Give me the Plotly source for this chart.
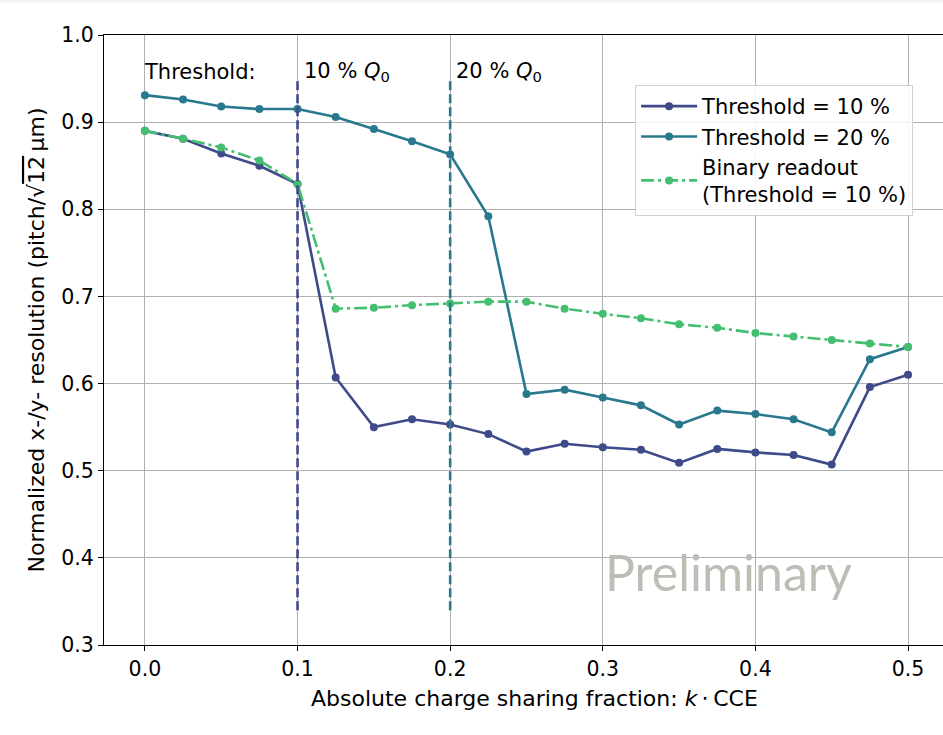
import plotly.graph_objects as go

x_vals = [0.0, 0.025, 0.05, 0.075, 0.1, 0.125, 0.15, 0.175, 0.2, 0.225, 0.25,
          0.275, 0.3, 0.325, 0.35, 0.375, 0.4, 0.425, 0.45, 0.475, 0.5]
thr10 = [0.890, 0.881, 0.864, 0.850, 0.829, 0.607, 0.550, 0.559, 0.553, 0.542, 0.522,
         0.531, 0.527, 0.524, 0.509, 0.525, 0.521, 0.518, 0.507, 0.596, 0.610]
thr20 = [0.931, 0.926, 0.918, 0.915, 0.915, 0.906, 0.892, 0.878, 0.863, 0.792, 0.588,
         0.593, 0.584, 0.575, 0.553, 0.569, 0.565, 0.559, 0.544, 0.628, 0.642]
binary = [0.890, 0.881, 0.871, 0.856, 0.829, 0.686, 0.687, 0.690, 0.692, 0.694, 0.694,
          0.686, 0.680, 0.675, 0.668, 0.664, 0.658, 0.654, 0.650, 0.646, 0.642]
threshold_lines = [0.1, 0.2]
threshold_labels = ["10 % <i>Q</i><sub>0</sub>", "20 % <i>Q</i><sub>0</sub>"]

c10 = "#3e4a89"
c20 = "#2a788e"
cbin = "#44bf70"
FONT = "DejaVu Sans"

fig = go.Figure()
fig.add_trace(go.Scatter(x=x_vals, y=thr10, mode="lines+markers", name="Threshold = 10 %",
                         line=dict(color=c10, width=2.6), marker=dict(size=8, color=c10)))
fig.add_trace(go.Scatter(x=x_vals, y=thr20, mode="lines+markers", name="Threshold = 20 %",
                         line=dict(color=c20, width=2.6), marker=dict(size=8, color=c20)))
fig.add_trace(go.Scatter(x=x_vals, y=binary, mode="lines+markers",
                         name="Binary readout<br>(Threshold = 10 %)",
                         line=dict(color=cbin, width=2.6, dash="13px,4px,3px,4px"),
                         marker=dict(size=8, color=cbin)))

for xv, col in zip(threshold_lines, [c10, c20]):
    fig.add_trace(go.Scatter(x=[xv, xv], y=[0.34, 0.95], mode="lines", showlegend=False,
                             line=dict(color=col, width=2.6, dash="9px,4px"), hoverinfo="skip"))

annotations = [dict(x=0.0, y=0.958, xref="x", yref="y", text="Threshold:", showarrow=False,
                    xanchor="left", yanchor="middle", xshift=-3,
                    font=dict(size=21, color="black", family=FONT))]
for xv, lab in zip(threshold_lines, threshold_labels):
    annotations.append(dict(x=xv, y=0.958, xref="x", yref="y", text=lab, showarrow=False,
                            xanchor="left", yanchor="middle", xshift=4,
                            font=dict(size=21, color="black", family=FONT)))
annotations.append(dict(x=0.3037, y=0.384, xref="x", yref="y", text="Preliminary", showarrow=False,
                        xanchor="left", yanchor="middle", xshift=-5,
                        font=dict(size=50, color="#bdbdb5", family="Lato")))
annotations.append(dict(x=0.5137, y=-0.087, xref="paper", yref="paper",
                        text="Absolute charge sharing fraction: <i>k</i>\u2009⋅\u2009CCE",
                        showarrow=False, xanchor="center", yanchor="middle",
                        font=dict(size=22, color="black", family=FONT)))

fig.update_layout(
    width=943, height=735,
    margin=dict(l=104, r=0, t=35, b=90),
    paper_bgcolor="white", plot_bgcolor="white",
    font=dict(family=FONT, size=20, color="black"),
    showlegend=True,
    legend=dict(x=0.633, y=0.918, xanchor="left", yanchor="top",
                bgcolor="rgba(255,255,255,0.85)", bordercolor="#d0d0d0", borderwidth=1,
                font=dict(size=21, family=FONT), tracegroupgap=0, itemwidth=56),
    annotations=annotations,
    shapes=[dict(type="rect", xref="paper", yref="paper", x0=-0.2, x1=1.1, y0=1.052, y1=1.06,
                 fillcolor="#f5f5f5", line=dict(width=0), layer="below")],
)
fig.update_xaxes(range=[-0.0268, 0.5229], tickvals=[0, 0.1, 0.2, 0.3, 0.4, 0.5],
                 tickformat=".1f", showgrid=True, gridcolor="#b0b0b0", gridwidth=1.3,
                 zeroline=False, showline=True, linecolor="black", linewidth=1.3, mirror=True,
                 ticks="outside", ticklen=5, tickwidth=1.3, tickcolor="black",
                 tickfont=dict(size=20.5))
fig.update_yaxes(range=[0.3, 1.0], tickvals=[0.3, 0.4, 0.5, 0.6, 0.7, 0.8, 0.9, 1.0],
                 tickformat=".1f", showgrid=True, gridcolor="#b0b0b0", gridwidth=1.3,
                 zeroline=False, showline=True, linecolor="black", linewidth=1.3, mirror=True,
                 ticks="outside", ticklen=5, tickwidth=1.3, tickcolor="black",
                 tickfont=dict(size=20.5),
                 title=dict(text="Normalized x-/y- resolution (pitch/√<span style=\"text-decoration:overline\">12</span>\u2009µm)",
                            font=dict(size=22), standoff=10))

fig.write_html("out.html")
